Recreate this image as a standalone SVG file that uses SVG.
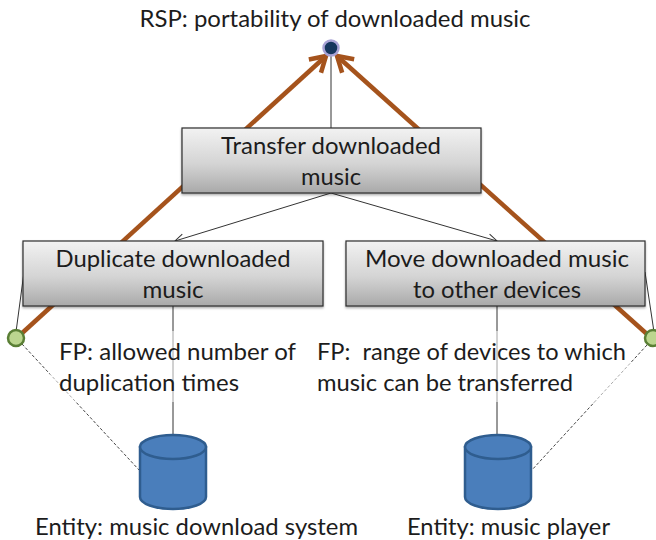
<svg xmlns="http://www.w3.org/2000/svg" width="656" height="540" viewBox="0 0 656 540">
<style>
text{font-family:Lato,"Open Sans","Liberation Sans",sans-serif;font-size:24px;fill:#1c1c1c}
.m{text-anchor:middle}
.box{fill:url(#g);stroke:#2e2e2e;stroke-width:1.2;filter:url(#s)}
.cyl{fill:#4a7ebb;stroke:#2f5d8f;stroke-width:2.5}
.thin{stroke:#333;stroke-width:1;fill:none}
.brown{stroke:#a5531c;stroke-width:4.5;fill:none}
.dash{stroke:#444;stroke-width:1;stroke-dasharray:3 2;fill:none}
.green{fill:#bcd68f;stroke:#5a7f35;stroke-width:2.5}
</style>
<defs>
<linearGradient id="g" x1="0" y1="0" x2="0" y2="1"><stop offset="0" stop-color="#f2f2f2"/><stop offset="0.55" stop-color="#d4d4d4"/><stop offset="1" stop-color="#a9a9a9"/></linearGradient>
<filter id="s" x="-2%" y="-5%" width="104%" height="115%"><feDropShadow dx="0" dy="1.5" stdDeviation="1" flood-color="#000" flood-opacity="0.35"/></filter>
<marker id="open" markerUnits="userSpaceOnUse" viewBox="0 0 24 24" refX="21" refY="12" markerWidth="24" markerHeight="24" orient="auto"><path d="M6 3L21 12L6 21" fill="none" stroke="#a5531c" stroke-width="4.5"/></marker>
<marker id="thinA" markerUnits="userSpaceOnUse" viewBox="0 0 12 12" refX="11" refY="6" markerWidth="12" markerHeight="12" orient="auto"><path d="M2 1.5L11 6L2 10.500" fill="none" stroke="#333" stroke-width="1"/></marker>
</defs>
<rect width="656" height="540" fill="#fff"/>
<g id="connectors">
<path class="brown" d="M20 335L326 56" marker-end="url(#open)"/>
<path class="brown" d="M648 335L337 56" marker-end="url(#open)"/>
<path class="thin" d="M331 52V128"/>
<path class="thin" d="M331 193L175 241" marker-end="url(#thinA)"/>
<path class="thin" d="M331 193L497 241" marker-end="url(#thinA)"/>
<path class="thin" d="M173 306V436"/>
<path class="thin" d="M497 306V436"/>
<path class="thin" d="M24 272L16 332"/>
<path class="thin" d="M645 272L654 332"/>
<path class="dash" d="M22 344L140 471"/>
<path class="dash" d="M647 345L531 471"/>
</g>
<rect x="50" y="331" width="255" height="71" fill="#fff" fill-opacity="0.55"/>
<rect x="310" y="331" width="321" height="71" fill="#fff" fill-opacity="0.55"/>
<g id="rsp"><circle cx="331" cy="48" r="7.500" fill="#17375e" stroke="#a9a3d6" stroke-width="2.500"/>
<text x="335" y="27" class="m" textLength="391" lengthAdjust="spacingAndGlyphs">RSP: portability of downloaded music</text></g>
<g id="transfer"><rect class="box" x="182" y="128" width="299" height="65"/>
<text x="331" y="154" class="m" textLength="220" lengthAdjust="spacingAndGlyphs">Transfer downloaded</text>
<text x="331" y="185" class="m" textLength="60" lengthAdjust="spacingAndGlyphs">music</text></g>
<g id="duplicate"><rect class="box" x="23" y="241" width="300" height="65"/>
<text x="173" y="267" class="m" textLength="235" lengthAdjust="spacingAndGlyphs">Duplicate downloaded</text>
<text x="173" y="298" class="m" textLength="61" lengthAdjust="spacingAndGlyphs">music</text></g>
<g id="move"><rect class="box" x="346" y="241" width="299" height="65"/>
<text x="497" y="267" class="m" textLength="264" lengthAdjust="spacingAndGlyphs">Move downloaded music</text>
<text x="497" y="298" class="m" textLength="168" lengthAdjust="spacingAndGlyphs">to other devices</text></g>
<g id="fp-left"><circle class="green" cx="16" cy="338" r="8"/>
<text x="59" y="360" textLength="237" lengthAdjust="spacingAndGlyphs">FP: allowed number of</text>
<text x="59" y="391" textLength="180" lengthAdjust="spacingAndGlyphs">duplication times</text></g>
<g id="fp-right"><circle class="green" cx="653" cy="338" r="8"/>
<text x="317" y="360" textLength="309" lengthAdjust="spacingAndGlyphs" xml:space="preserve">FP:  range of devices to which</text>
<text x="317" y="391" textLength="256" lengthAdjust="spacingAndGlyphs">music can be transferred</text></g>
<g id="entity-left"><path class="cyl" d="M140 447V497A33 12 0 0 0 206 497V447Z"/><ellipse class="cyl" cx="173" cy="447" rx="33" ry="12"/>
<text x="35" y="535" textLength="323" lengthAdjust="spacingAndGlyphs">Entity: music download system</text></g>
<g id="entity-right"><path class="cyl" d="M465 447V497A33 12 0 0 0 531 497V447Z"/><ellipse class="cyl" cx="498" cy="447" rx="33" ry="12"/>
<text x="407" y="535" textLength="203" lengthAdjust="spacingAndGlyphs">Entity: music player</text></g>
</svg>
